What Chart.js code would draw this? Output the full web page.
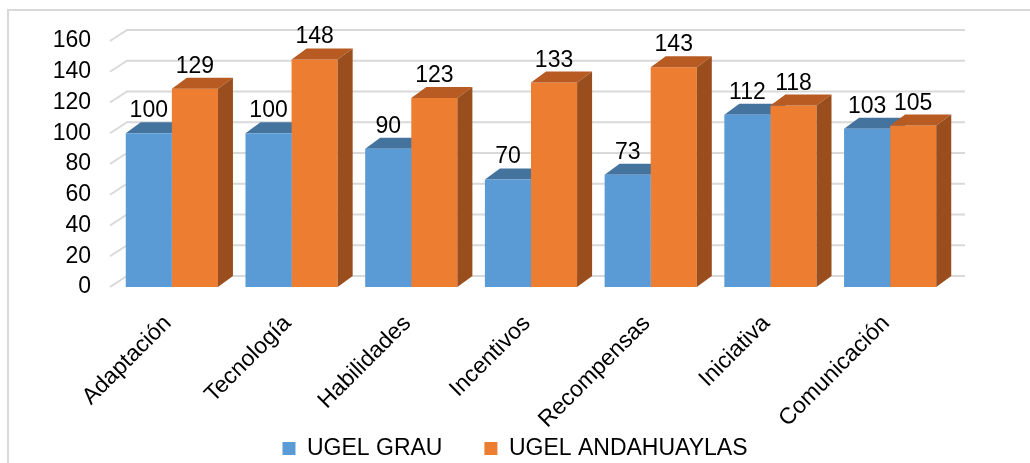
<!DOCTYPE html>
<html>
<head>
<meta charset="utf-8">
<script src="https://cdn.jsdelivr.net/npm/chart.js@4.4.0/dist/chart.umd.min.js"></script>
<style>
  html, body { margin: 0; padding: 0; background: #fff; }
  canvas { display: block; }
</style>
</head>
<body>
<canvas id="barChart" width="1030" height="463"></canvas>
<script>
const categories = ['Adaptación', 'Tecnología', 'Habilidades', 'Incentivos', 'Recompensas', 'Iniciativa', 'Comunicación'];
const grauValues = [100, 100, 90, 70, 73, 112, 103];
const andahuaylasValues = [129, 148, 123, 133, 143, 118, 105];
const seriesNames = ['UGEL GRAU', 'UGEL ANDAHUAYLAS'];
const yMax = 160;
const yStep = 20;

// depth of the fake 3D boxes
const DX = 15;
const DY = 11;
const FONT = 'Liberation Sans, Arial, sans-serif';
const FONT_SIZE = 23;

const faceColors = [
    { front: '#5b9bd5', top: '#44739e', side: '#3f6c96' },
    { front: '#ed7d31', top: '#b85b22', side: '#9a4e1d' }
];

function drawBox(ctx, bar, colors) {
    const left = bar.x - bar.width / 2;
    const right = bar.x + bar.width / 2;
    const top = bar.y;
    const base = bar.base;

    ctx.fillStyle = colors.top;
    ctx.beginPath();
    ctx.moveTo(left, top);
    ctx.lineTo(right, top);
    ctx.lineTo(right + DX, top - DY);
    ctx.lineTo(left + DX, top - DY);
    ctx.closePath();
    ctx.fill();

    ctx.fillStyle = colors.side;
    ctx.beginPath();
    ctx.moveTo(right, top);
    ctx.lineTo(right + DX, top - DY);
    ctx.lineTo(right + DX, base - DY);
    ctx.lineTo(right, base);
    ctx.closePath();
    ctx.fill();
}

const depthPlugin = {
    id: 'depth',
    beforeDraw(chart) {
        const ctx = chart.ctx;
        ctx.save();
        ctx.strokeStyle = '#d9d9d9';
        ctx.lineWidth = 2;
        ctx.strokeRect(8, 10, 1040, 480);
        ctx.restore();
    },
    beforeDatasetsDraw(chart) {
        const ctx = chart.ctx;
        const area = chart.chartArea;
        const yScale = chart.scales.y;
        ctx.save();
        ctx.strokeStyle = '#d9d9d9';
        ctx.lineWidth = 2;
        yScale.ticks.forEach(t => {
            const y = yScale.getPixelForValue(t.value);
            ctx.beginPath();
            ctx.moveTo(area.left - 2, y);
            ctx.lineTo(area.left + DX, y - DY);
            ctx.lineTo(area.right + DX, y - DY);
            ctx.stroke();
        });
        chart.getDatasetMeta(0).data.forEach(bar => drawBox(ctx, bar, faceColors[0]));
        ctx.restore();
    },
    afterDatasetsDraw(chart) {
        const ctx = chart.ctx;
        ctx.save();
        chart.getDatasetMeta(1).data.forEach(bar => drawBox(ctx, bar, faceColors[1]));

        ctx.fillStyle = '#000';
        ctx.font = FONT_SIZE + 'px ' + FONT;
        ctx.textAlign = 'center';
        ctx.textBaseline = 'alphabetic';
        chart.data.datasets.forEach((ds, i) => {
            chart.getDatasetMeta(i).data.forEach((bar, j) => {
                ctx.fillText(ds.data[j], bar.x, bar.y - 16);
            });
        });
        ctx.restore();
    }
};

const ctx = document.getElementById('barChart').getContext('2d');
new Chart(ctx, {
    type: 'bar',
    data: {
        labels: categories,
        datasets: [{
            label: seriesNames[0],
            data: grauValues,
            backgroundColor: faceColors[0].front,
            borderWidth: 0
        }, {
            label: seriesNames[1],
            data: andahuaylasValues,
            backgroundColor: faceColors[1].front,
            borderWidth: 0
        }]
    },
    options: {
        responsive: false,
        animation: false,
        layout: {
            padding: { top: 41, right: 0, left: 0, bottom: -7 }
        },
        datasets: {
            bar: {
                categoryPercentage: 0.77,
                barPercentage: 1
            }
        },
        plugins: {
            legend: {
                position: 'bottom',
                labels: {
                    boxWidth: 13,
                    boxHeight: 13,
                    padding: 10,
                    color: '#000',
                    font: { family: FONT, size: FONT_SIZE },
                    generateLabels(chart) {
                        const items = Chart.defaults.plugins.legend.labels.generateLabels(chart);
                        // widen the gap after the first entry
                        items[0].text += '     ';
                        return items;
                    }
                }
            },
            tooltip: { enabled: false }
        },
        scales: {
            x: {
                grid: { display: false },
                border: { display: false },
                ticks: {
                    color: '#000',
                    font: { family: FONT, size: FONT_SIZE },
                    minRotation: 45,
                    maxRotation: 45,
                    autoSkip: false,
                    padding: 15,
                    labelOffset: -4
                },
                afterFit(scale) {
                    scale.height = 140;
                }
            },
            y: {
                min: 0,
                max: yMax,
                grid: { display: false, drawTicks: false },
                border: { display: false },
                ticks: {
                    stepSize: yStep,
                    autoSkip: false,
                    color: '#000',
                    font: { family: FONT, size: FONT_SIZE },
                    padding: 21
                },
                afterFit(scale) {
                    scale.width = 112;
                }
            },
            // empty right-hand margin, keeps the legend centred on the page
            spacer: {
                position: 'right',
                grid: { display: false },
                border: { display: false },
                ticks: { display: false },
                afterFit(scale) {
                    scale.width = 80;
                }
            }
        }
    },
    plugins: [depthPlugin]
});
</script>
</body>
</html>
